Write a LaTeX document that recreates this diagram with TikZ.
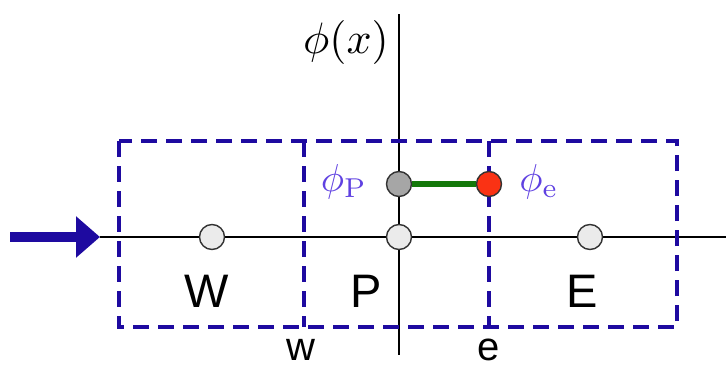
\documentclass[tikz,border=0pt]{standalone}
\usepackage[no-math]{fontspec}
\setmainfont{Liberation Sans}
\usepackage{amsmath}
\usetikzlibrary{arrows.meta,positioning}
\definecolor{cvblue}{RGB}{30,10,160}
\definecolor{phiblue}{RGB}{95,65,225}
\definecolor{cvgreen}{RGB}{20,120,10}
\definecolor{cvred}{RGB}{250,50,20}

\begin{document}
\begin{tikzpicture}[x=1pt, y=-1pt,
  font=\fontsize{47}{52}\selectfont,
  cv/.style={draw=cvblue, line width=3.4pt, dash pattern=on 16pt off 9pt},
  pt/.style={circle, draw=black!80, line width=1.4pt, minimum size=25pt, inner sep=0pt, fill=#1},
  lab/.style={inner sep=0pt},
  mathlab/.style={inner sep=0pt, font=\normalsize, scale=#1},
  philab/.style={mathlab=3.9, text=phiblue}]
\useasboundingbox (0,0) rectangle (726,367);
% axes
\coordinate (xl) at (100,237);
\coordinate (xr) at (726,237);
\coordinate (yt) at (399,14);
\coordinate (yb) at (399,355);
\draw[line width=1.6pt] (xl) -- (xr);
\draw[line width=1.6pt] (yt) -- (yb);
% control volumes
\draw[cv] (119,141) rectangle (677,327);
\draw[cv] (304,141) -- (304,327);
\draw[cv] (489,141) -- (489,327);
% inflow arrow
\coordinate (in) at (10,237);
\draw[-{Triangle[length=24pt, width=40pt]}, line width=10pt, cvblue] (in) -- (xl);
% nodes
\node[pt=black!8] (W) at (212,237) {};
\node[pt=black!8] (P) at (399,237) {};
\node[pt=black!8] (E) at (590,237) {};
\node[pt=black!35] (phiP) at (399,184) {};
\node[pt=cvred] (phie) at (489,184) {};
\draw[cvgreen, line width=6pt] (phiP) -- (phie);
% labels
\node[lab] (lW) at (207,291) {W};
\node[lab] (lP) at (366,291) {P};
\node[lab] (lE) at (582,291) {E};
\node[lab, font=\fontsize{40}{44}\selectfont] (lw) at (301,350) {w};
\node[lab, font=\fontsize{40}{44}\selectfont] (le) at (489,350) {e};
\node[mathlab=4.4] (phix) at (346,42) {$\phi(x)$};
\node[philab] (lphiP) at (344,182) {$\phi_{\mathrm{P}}$};
\node[philab] (lphie) at (539,182) {$\phi_{\mathrm{e}}$};
\end{tikzpicture}
\end{document}
